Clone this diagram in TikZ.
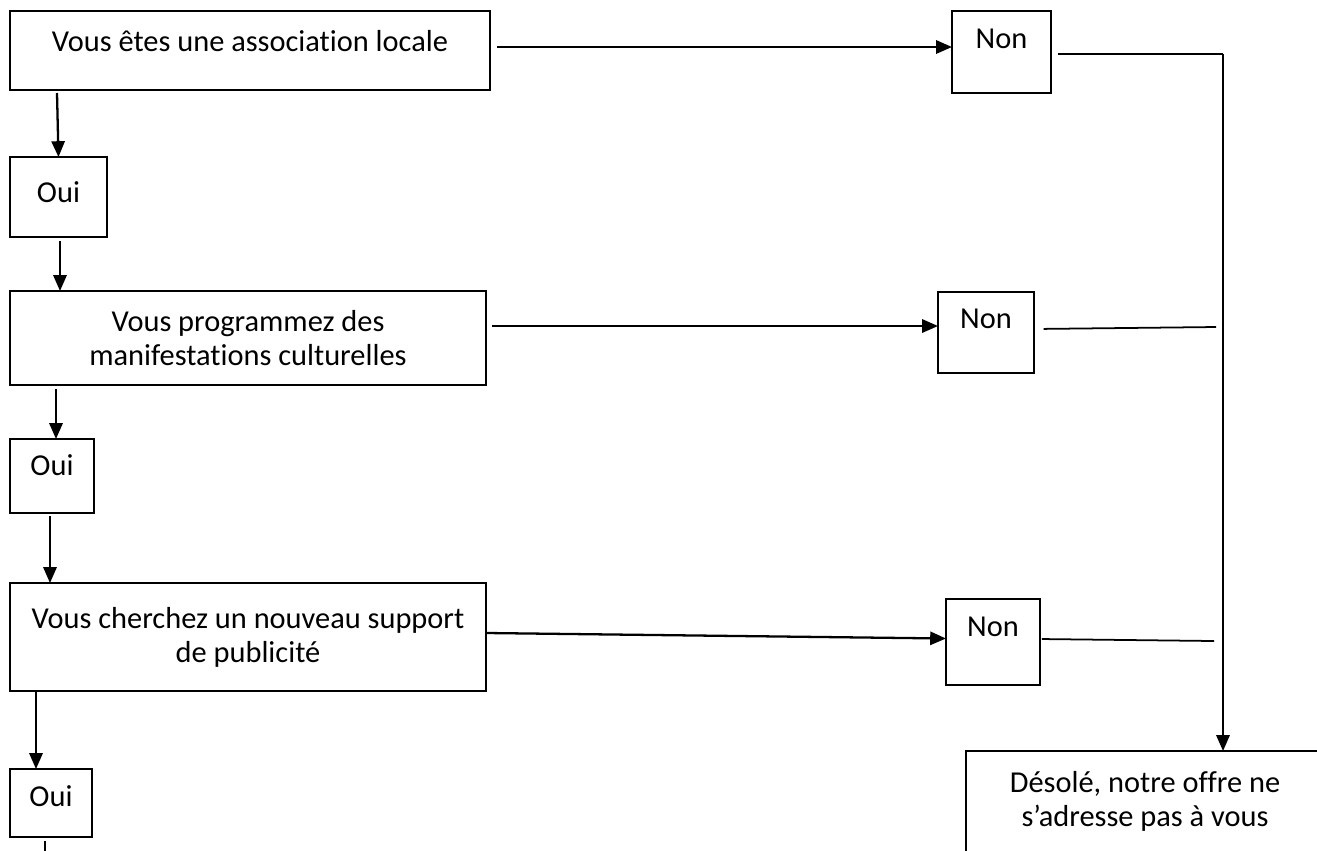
\documentclass[tikz,border=0pt]{standalone}
\usepackage{fontspec}
\setmainfont{Carlito}[Ligatures=NoCommon]
\usetikzlibrary{arrows.meta}

\begin{document}
\begin{tikzpicture}[x=0.02cm, y=-0.02cm,
  box/.style={draw, line width=1.4pt, inner sep=0pt, outer sep=0pt, align=center,
    font=\fontsize{17.3pt}{19.3pt}\selectfont},
  lift/.style={text height=11.5pt, text depth=#1},
  arr/.style={->, line width=1.3pt, >={Triangle[length=9pt, width=7.5pt]}},
  link/.style={line width=1pt}]
\useasboundingbox (0,0) rectangle (1317,850);
\clip (0,0) rectangle (1317,850);
\node[box, lift=10pt, minimum width=9.6cm, minimum height=1.58cm] (q1) at (250,50.5) {Vous êtes une association locale};
\node[box, lift=5pt, minimum width=1.94cm, minimum height=1.6cm] (oui1) at (58.5,197) {Oui};
\node[box, minimum width=9.52cm, minimum height=1.88cm] (q2) at (248,338) {Vous programmez des\\manifestations culturelles};
\node[box, lift=11.8pt, minimum width=1.68cm, minimum height=1.48cm] (oui2) at (52,476) {Oui};
\node[box, minimum width=9.52cm, minimum height=2.16cm] (q3) at (248,637) {Vous cherchez un nouveau support\\de publicité};
\node[box, lift=7.2pt, minimum width=1.64cm, minimum height=1.36cm] (oui3) at (51,803) {Oui};
\node[box, lift=15.2pt, minimum width=1.98cm, minimum height=1.64cm] (non1) at (1001.5,52) {Non};
\node[box, lift=15.8pt, minimum width=1.92cm, minimum height=1.62cm] (non2) at (986,332.5) {Non};
\node[box, lift=17.4pt, minimum width=1.88cm, minimum height=1.72cm] (non3) at (993,642) {Non};
\node[box, minimum width=7.16cm, minimum height=2.02cm] (sorry) at (1145,801.5) {Désolé, notre offre ne\\s’adresse pas à vous};
% Oui side:
\coordinate (s1) at (57,93);
\coordinate (s2) at (60,241);
\coordinate (s3) at (56,389);
\coordinate (s4) at (50,516);
\coordinate (s5) at (36,691);
\coordinate (s6) at (45,841);
\draw[arr] (s1)--(oui1.north);
\draw[arr] (s2)--(s2 |- q2.north);
\draw[arr] (s3)--(s3 |- oui2.north);
\draw[arr] (s4)--(s4 |- q3.north);
\draw[arr] (s5)--(s5 |- oui3.north);
\draw[line width=1.3pt] (s6)--++(0,20);
% Non side:
\coordinate (h1) at (497,47);
\coordinate (h2) at (492,326);
\coordinate (h3) at (487,633);
\draw[arr] (h1)--(h1 -| non1.west);
\draw[arr] (h2)--(h2 -| non2.west);
\draw[arr] (h3)--([yshift=2pt]non3.west);
\coordinate (j1) at (1223,54);
\coordinate (e2) at (1216,327);
\coordinate (e3) at (1214,641);
\draw[link, shorten <=4pt] (non1.east |- j1)--(j1);
\draw[link, shorten <=5.5pt] (non2.east |- 0,329)--(e2);
\draw[link, shorten <=1pt] (non3.east |- 0,639)--(e3);
\draw[arr] (j1)--(j1 |- sorry.north);
\end{tikzpicture}
\end{document}
